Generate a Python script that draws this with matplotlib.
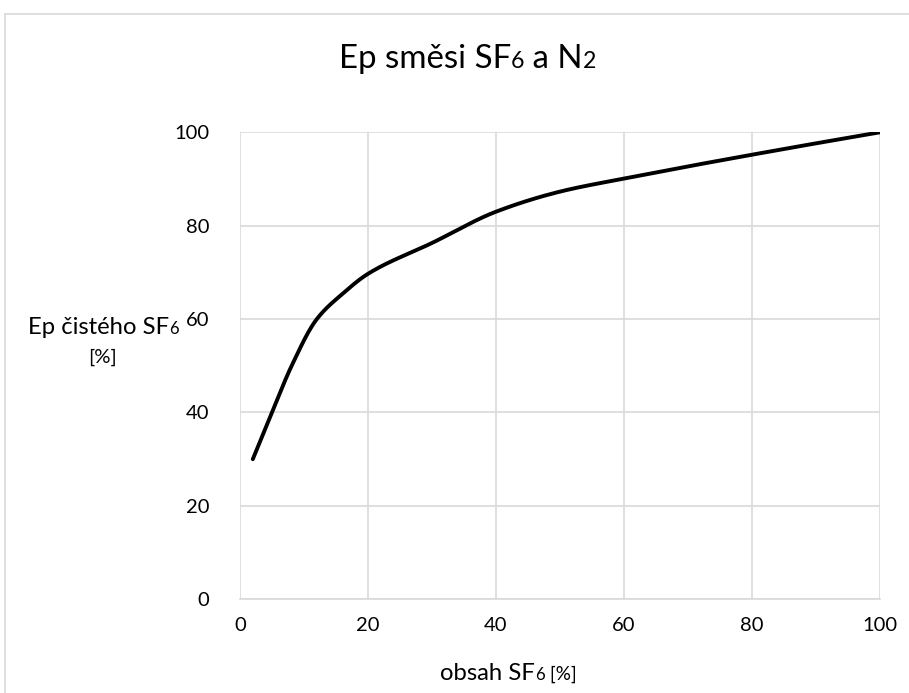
import numpy as np
import matplotlib.pyplot as plt
from matplotlib.patches import Rectangle

# values
sf6_content = [2, 5, 8, 12, 16, 20, 30, 40, 50, 60, 80, 100]
ep_ratio = [30, 40, 49.8, 60, 65.4, 69.7, 76.3, 83, 87.3, 90.1, 95.2, 100]

x_ticks = [0, 20, 40, 60, 80, 100]
y_ticks = [0, 20, 40, 60, 80, 100]

FONT = "Lato"
GRID = "#d9d9d9"


def pchip(xs, ys, steps=40):
    # monotone cubic interpolation, gives a smooth line through the read points
    x, y = np.asarray(xs, float), np.asarray(ys, float)
    h = np.diff(x)
    d = np.diff(y) / h
    m = np.zeros_like(y)
    for k in range(1, len(x) - 1):
        if d[k - 1] * d[k] > 0:
            w1 = 2 * h[k] + h[k - 1]
            w2 = h[k] + 2 * h[k - 1]
            m[k] = (w1 + w2) / (w1 / d[k - 1] + w2 / d[k])
    m[0] = ((2 * h[0] + h[1]) * d[0] - h[0] * d[1]) / (h[0] + h[1])
    m[-1] = ((2 * h[-1] + h[-2]) * d[-1] - h[-1] * d[-2]) / (h[-1] + h[-2])
    px, py = [], []
    for k in range(len(x) - 1):
        s = np.linspace(0, 1, steps)
        h00 = 2 * s ** 3 - 3 * s ** 2 + 1
        h10 = s ** 3 - 2 * s ** 2 + s
        h01 = -2 * s ** 3 + 3 * s ** 2
        h11 = s ** 3 - s ** 2
        px.extend(x[k] + s * h[k])
        py.extend(h00 * y[k] + h10 * h[k] * m[k] + h01 * y[k + 1] + h11 * h[k] * m[k + 1])
    return px, py


def mixed_text(fig, x, y, parts, width):
    # pieces of text with different sizes on one baseline, centred on x (pixels),
    # scaled so the whole string is `width` pixels wide
    r = fig.canvas.get_renderer()
    objs = []
    for s, size in parts:
        objs.append(fig.text(0, y / fig.bbox.height, s, fontsize=size,
                             family=FONT, va="baseline", ha="left"))
    k = width / sum(o.get_window_extent(r).width for o in objs)
    for o, (s, size) in zip(objs, parts):
        o.set_fontsize(size * k)
    widths = [o.get_window_extent(r).width for o in objs]
    start = x - sum(widths) / 2
    for o, w in zip(objs, widths):
        o.set_x(start / fig.bbox.width)
        start += w


fig = plt.figure(figsize=(9.09, 6.93), dpi=100)
fig.patches.append(Rectangle((5 / 909, -0.01), 1.0, (693 - 14) / 693 + 0.01,
                             transform=fig.transFigure, fill=False,
                             edgecolor=GRID, linewidth=1.2))

ax = fig.add_axes([240 / 909, 93.7 / 693, 640 / 909, 467 / 693])
cx, cy = pchip(sf6_content, ep_ratio)
ax.plot(cx, cy, color="black", linewidth=2.8, solid_capstyle="round")

ax.set_xlim(0, 100)
ax.set_ylim(0, 100)
ax.set_xticks(x_ticks)
ax.set_yticks(y_ticks)
ax.grid(True, color=GRID, linewidth=1.2)
ax.set_axisbelow(True)
for side in ["top", "right", "left"]:
    ax.spines[side].set_visible(False)
ax.spines["bottom"].set_color(GRID)
ax.spines["bottom"].set_linewidth(1.2)

ax.tick_params(length=0, labelsize=14.5, colors="#000000")
ax.tick_params(axis="y", pad=22)
ax.tick_params(axis="x", pad=13)
for lab in ax.get_xticklabels() + ax.get_yticklabels():
    lab.set_family(FONT)

H = 693
mixed_text(fig, 467.5, H - 68.3, [("Ep směsi SF", 20), ("6", 14), (" a N", 20), ("2", 14)], 257)
mixed_text(fig, 103.5, H - 334.3, [("Ep čistého SF", 15), ("6", 10.5)], 151)
mixed_text(fig, 102.5, H - 363, [("[%]", 11.5)], 29)
mixed_text(fig, 508.5, H - 680, [("obsah SF", 15), ("6", 10.5), (" [%]", 12)], 137)

fig.savefig("out.png", dpi=100)
